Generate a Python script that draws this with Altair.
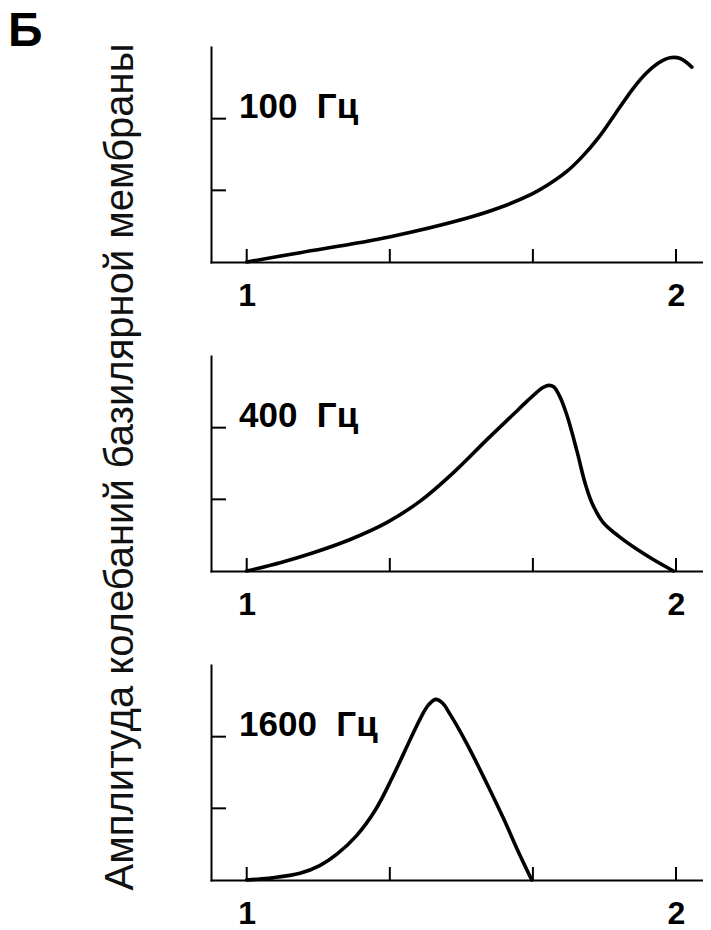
import altair as alt
import pandas as pd

# ---- data ----
labels = ["100\u00a0\u00a0Гц", "400\u00a0\u00a0Гц", "1600\u00a0\u00a0Гц"]

x_100 = [1.0, 1.124, 1.332, 1.512, 1.59, 1.665, 1.70, 1.745, 1.78, 1.82, 1.86, 1.90, 1.93,
         1.96, 1.986, 2.01, 2.037]
y_100 = [0.0, 0.13, 0.35, 0.61, 0.76, 0.95, 1.07, 1.26, 1.46, 1.74, 2.08, 2.42, 2.63,
         2.78, 2.85, 2.84, 2.72]

x_400 = [1.0, 1.08, 1.155, 1.241, 1.326, 1.404, 1.481, 1.559, 1.62, 1.655, 1.675, 1.69,
         1.703, 1.715, 1.728, 1.745, 1.769, 1.788, 1.805, 1.83, 1.87, 1.91, 1.947, 1.994]
y_400 = [0.0, 0.12, 0.255, 0.44, 0.675, 0.975, 1.37, 1.83, 2.18, 2.38, 2.49, 2.56,
         2.59, 2.57, 2.45, 2.19, 1.68, 1.23, 0.94, 0.68, 0.47, 0.30, 0.16, 0.0]

x_1600 = [1.0, 1.06, 1.124, 1.17, 1.21, 1.256, 1.30, 1.34, 1.38, 1.405, 1.423, 1.44, 1.456,
          1.475, 1.512, 1.559, 1.598, 1.63, 1.664]
y_1600 = [0.0, 0.03, 0.093, 0.20, 0.36, 0.62, 0.98, 1.44, 1.95, 2.26, 2.44, 2.52, 2.47,
          2.30, 1.91, 1.35, 0.86, 0.43, 0.0]

x_tick_values = [1, 4 / 3, 5 / 3, 2]
x_label_values = [1, 2]
y_tick_values = [1, 2]

panel_letter = "Б"
y_title = "Амплитуда колебаний базилярной мембраны"

# ---- layout / style ----
X_DOMAIN = [0.9168, 2.0629]
Y_DOMAIN = [0, 3]
W, H = 492, 215
FONT = "Liberation Sans"

xs = alt.Scale(domain=X_DOMAIN, nice=False, zero=False)
ys = alt.Scale(domain=Y_DOMAIN, nice=False, zero=False)

x_axis = alt.Axis(
    values=x_label_values, format="d", ticks=False, tickSize=0, grid=False,
    domainColor="black", domainWidth=2, domainCap="square",
    labelFont=FONT, labelFontSize=32, labelFontWeight="bold",
    labelColor="black", labelPadding=18, labelFlush=False, title=None)
y_axis = alt.Axis(
    ticks=False, tickSize=0, labels=False, grid=False,
    domainColor="black", domainWidth=2, domainCap="square", title=None)


def panel(label, xv, yv, extra=None):
    df = pd.DataFrame({"x": xv, "y": yv})
    line = alt.Chart(df).mark_line(
        color="black", strokeWidth=3.6, interpolate="catmull-rom", strokeCap="round",
        strokeJoin="round"
    ).encode(
        x=alt.X("x:Q", scale=xs, axis=x_axis),
        y=alt.Y("y:Q", scale=ys, axis=y_axis),
    )
    ytick = alt.Chart(pd.DataFrame({"y": y_tick_values})).mark_rule(
        color="black", strokeWidth=2
    ).encode(
        y=alt.Y("y:Q", scale=ys, axis=y_axis),
        x=alt.value(0), x2=alt.value(15),
    )
    xtick = alt.Chart(pd.DataFrame({"x": x_tick_values})).mark_rule(
        color="black", strokeWidth=2
    ).encode(
        x=alt.X("x:Q", scale=xs, axis=x_axis),
        y=alt.value(H), y2=alt.value(H - 13),
    )
    txt = alt.Chart(pd.DataFrame({"t": [label]})).mark_text(
        align="left", baseline="alphabetic", font=FONT, fontSize=35,
        fontWeight="bold", color="black"
    ).encode(x=alt.value(28), y=alt.value(71), text="t:N")
    layers = [line, ytick, xtick, txt]
    if extra:
        layers += extra
    return alt.layer(*layers).properties(width=W, height=H)


letter = alt.Chart(pd.DataFrame({"t": [panel_letter]})).mark_text(
    align="left", baseline="top", font=FONT, fontSize=48, fontWeight="bold", color="black"
).encode(x=alt.value(-203), y=alt.value(-39), text="t:N")

ytitle = alt.Chart(pd.DataFrame({"t": [y_title]})).mark_text(
    align="center", baseline="alphabetic", angle=270, font=FONT, fontSize=40, color="#111111"
).encode(x=alt.value(-78), y=alt.value(420), text="t:N")

p1 = panel(labels[0], x_100, y_100, extra=[letter, ytitle])
p2 = panel(labels[1], x_400, y_400)
p3 = panel(labels[2], x_1600, y_1600)

chart = alt.vconcat(p1, p2, p3, spacing=94, bounds="flush").properties(
    padding={"left": 0, "top": 0, "right": 0, "bottom": 0},
    background="white",
).configure_view(stroke=None)

chart.save("out.html", embed_options={"renderer": "svg", "actions": False})
